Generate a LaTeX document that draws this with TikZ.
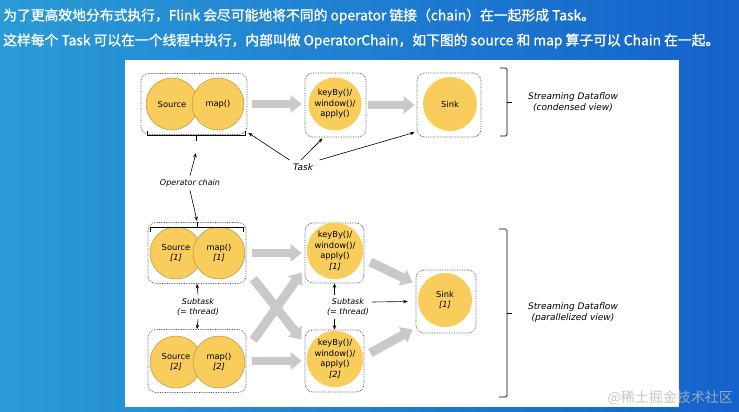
\documentclass[tikz,border=0pt]{standalone}
\usepackage{fontspec}
\setmainfont{DejaVu Sans}
\newfontfamily\cjk[FakeBold=1.2]{Noto Sans CJK SC}
\newfontfamily\cjkw{Noto Sans CJK SC}
\usetikzlibrary{arrows.meta}
\definecolor{bgL}{HTML}{2A9BD6}
\definecolor{bgR}{HTML}{1462CC}
\definecolor{opfill}{HTML}{F8CD5C}
\definecolor{opline}{HTML}{B89440}
\definecolor{fat}{HTML}{C9C9C9}
\tikzset{
 opcirc/.style={circle, fill=opfill, minimum size=52pt, inner sep=0pt, font=\fontsize{8.3}{10.5}\selectfont, align=center},
 opout/.style={opcirc, draw=opline, line width=0.5pt},
 taskbox/.style={draw=black!70, densely dotted, rounded corners=8pt, line width=0.7pt, inner sep=0pt},
 fatarrow/.style={draw=fat, line width=7.5pt, -{Triangle[length=11pt,width=17pt]}},
 fatdiag/.style={fatarrow, line width=9pt},
 ptr/.style={-{Stealth[length=4.5pt,width=3.5pt]}, line width=0.6pt, black},
 brk/.style={line width=0.7pt, black},
 lbl/.style={font=\fontsize{8}{10.5}\selectfont\itshape, align=center},
 biglbl/.style={font=\fontsize{9}{11}\selectfont\itshape, align=center},
 hdr/.style={anchor=west, text=white, font=\cjk\fontsize{13.8}{16}\selectfont, inner sep=0pt},
}
\begin{document}
\begin{tikzpicture}[x=1pt,y=-1pt]
\useasboundingbox (0,0) rectangle (739,412);
\shade[left color=bgL, right color=bgR] (0,0) rectangle (739,412);
\fill[white] (125,60) rectangle (679,407);

% header
\node[hdr] (h1) at (3,16) {为了更高效地分布式执行，Flink 会尽可能地将不同的 operator 链接（chain）在一起形成 Task。};
\node[hdr] (h2) at (3,41) {这样每个 Task 可以在一个线程中执行，内部叫做 OperatorChain，如下图的 source 和 map 算子可以 Chain 在一起。};

% ---------- condensed view ----------
\node[taskbox, minimum width=106pt, minimum height=61pt] (c1) at (194,104) {};
\node[opout] (src) at (172,104) {Source};
\node[opout] (map) at (218,104) {map()};
\node[taskbox, minimum width=61pt, minimum height=64pt] (kb) at (335.5,105) {};
\node[opcirc, minimum size=53pt] (kbc) at (335,104) {keyBy()/\\window()/\\apply()};
\node[taskbox, minimum width=64pt, minimum height=64pt] (sk) at (449,105) {};
\node[opcirc, minimum size=54pt] (skc) at (450,104) {Sink};

\draw[fatarrow] ([xshift=5pt]c1.east) -- ([xshift=-3pt]c1.east -| kb.west);
\draw[fatarrow] ([xshift=2pt]kb.east) -- ([xshift=-2pt]kb.east -| sk.west);

% bracket under chain
\draw[brk] (147,131) -- (147,135) -- (245,135) -- (245,131);
\draw[brk] (196,135) -- (196,141);

\node[lbl] (oc) at (190,183) {Operator chain};
\coordinate (ocUp) at (196,153);
\coordinate (ocDn) at (197,221);
\draw[ptr] (oc.north) -- (ocUp);
\draw[ptr] (oc.south) -- (ocDn);

\node[biglbl] (task) at (303,167) {Task};
\draw[ptr] (task.north west) -- ([xshift=1pt,yshift=2pt]c1.south east);
\draw[ptr] ([xshift=-2pt]task.north) -- ([xshift=-13pt,yshift=-1pt]kb.south);
\draw[ptr] ([xshift=3pt]task.north east) -- ([xshift=-2pt,yshift=5pt]sk.south west);

\draw[brk, rounded corners=1.5pt] (500,68) -- (507,68) -- (507,136) -- (500,136);
\draw[brk] (507,102) -- (512,102);
\node[biglbl] (sd1) at (573,102) {Streaming Dataflow\\(condensed view)};

% ---------- parallelized view ----------
\node[taskbox, minimum width=98pt, minimum height=61pt] (ch1) at (197,253) {};
\node[opout] (s1) at (176,253) {Source\\\textit{[1]}};
\node[opout] (m1) at (219,253) {map()\\\textit{[1]}};
\node[taskbox, minimum width=98pt, minimum height=63pt] (ch2) at (197,361) {};
\node[opout] (s2) at (176,362) {Source\\\textit{[2]}};
\node[opout] (m2) at (219,362) {map()\\\textit{[2]}};

\draw[brk] (150,232) -- (150,227) -- (243,227) -- (243,232);
\draw[brk] (197,227) -- (197,222);

\node[taskbox, minimum width=59pt, minimum height=60pt] (kb1) at (334.5,253) {};
\node[opcirc, minimum size=54pt] (k1) at (335,251) {keyBy()/\\window()/\\apply()\\\textit{[1]}};
\node[taskbox, minimum width=59pt, minimum height=62pt] (kb2) at (334.5,361) {};
\node[opcirc, minimum size=54pt] (k2) at (335,359) {keyBy()/\\window()/\\apply()\\\textit{[2]}};
\node[taskbox, minimum width=60pt, minimum height=63pt] (sk1) at (446,301.5) {};
\node[opcirc, minimum size=54pt] (sc1) at (445,300) {Sink\\\textit{[1]}};

\draw[fatarrow] ([xshift=6pt]ch1.east) -- ([xshift=-3pt]ch1.east -| kb1.west);
\draw[fatarrow] ([xshift=6pt]ch2.east) -- ([xshift=-3pt]ch2.east -| kb2.west);
\draw[fatdiag] ([xshift=7pt,yshift=5pt]ch1.south east) -- ([xshift=-3pt,yshift=-10pt]kb2.north west);
\draw[fatdiag] ([xshift=7pt,yshift=-11pt]ch2.north east) -- ([xshift=-3pt,yshift=11pt]kb1.south west);
\draw[fatdiag] ([xshift=6pt,yshift=-9pt]kb1.east) -- ([xshift=-3pt,yshift=19pt]sk1.west);
\draw[fatdiag] ([xshift=6pt,yshift=8pt]kb2.east) -- ([xshift=-3pt,yshift=-28pt]sk1.west);

\node[lbl] (sub1) at (198,307) {Subtask\\(= thread)};
\draw[ptr] (sub1.north) -- (ch1.south);
\draw[ptr] (sub1.south) -- (ch2.north);

\node[lbl] (sub2) at (348,307) {Subtask\\(= thread)};
\draw[ptr] (sub2.north -| kb1.south) -- (kb1.south);
\draw[ptr] (sub2.south -| kb2.north) -- (kb2.north);
\draw[ptr] ([yshift=5pt]sub2.east) -- ([xshift=-8pt]sk1.west);

\draw[brk, rounded corners=1.5pt] (499,229) -- (507,229) -- (507,397) -- (499,397);
\draw[brk] (507,313) -- (512,313);
\node[biglbl] (sd2) at (573,313) {Streaming Dataflow\\(parallelized view)};

% site watermark
\node[anchor=east, text=gray!55, opacity=0.8, font=\cjkw\fontsize{14}{16}\selectfont, inner sep=0pt] (wm) at (733,398) {@稀土掘金技术社区};
\end{tikzpicture}
\end{document}
